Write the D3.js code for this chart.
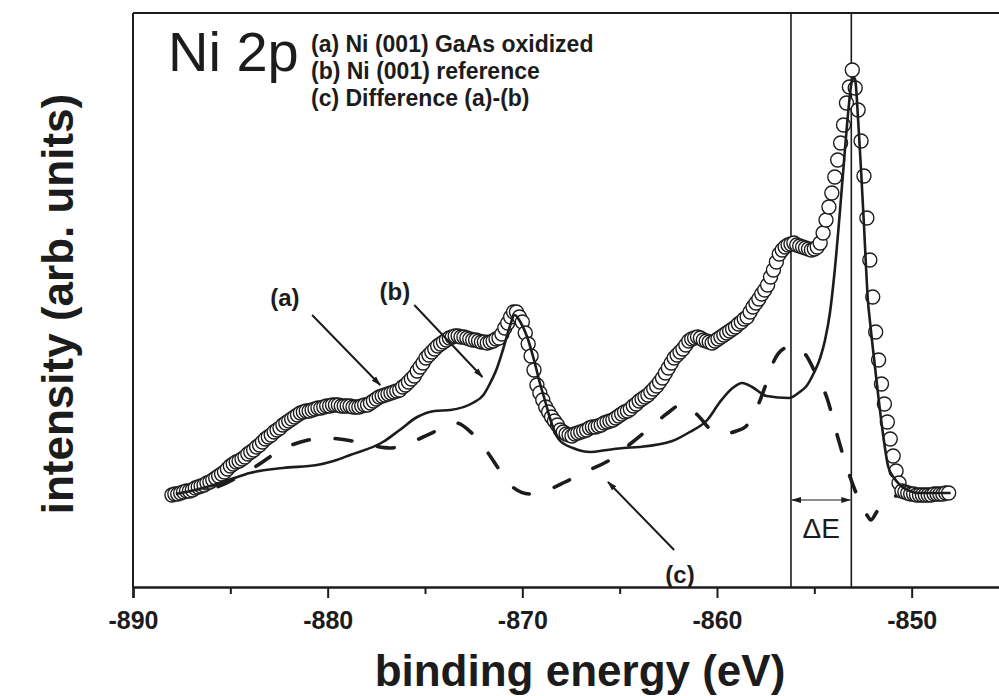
<!DOCTYPE html>
<html>
<head>
<meta charset="utf-8">
<script src="https://cdn.jsdelivr.net/npm/d3@7"></script>
<style>
  html, body { margin: 0; padding: 0; background: #fff; }
  svg { display: block; }
  text { font-family: "Liberation Sans", Arial, Helvetica, sans-serif; fill: #1c1c1c; }
</style>
</head>
<body>
<svg id="chart" width="999" height="696"></svg>
<script>
// Ni 2p core-level spectra: oxidized Ni on GaAs(001), Ni(001) reference and their difference.

// (a) measured on a uniform binding-energy grid starting at -888 eV, 0.15 eV per channel
const energyStart = -888.0;
const energyStep = 0.15;
const intensityOxidized = [
  -2, -1, -1, 0, 1, 2, 2, 3, 5, 6,
  7, 8, 10, 11, 13, 15, 17, 19, 21, 24,
  27, 29, 31, 32, 34, 36, 39, 41, 43, 46,
  48, 51, 54, 56, 58, 61, 63, 65, 68, 70,
  72, 74, 76, 78, 80, 81, 82, 82, 83, 84,
  85, 85, 86, 87, 87, 88, 88, 88, 87, 87,
  87, 87, 86, 86, 86, 87, 88, 88, 90, 92,
  94, 96, 97, 98, 99, 100, 101, 102, 103, 106,
  108, 111, 114, 117, 122, 126, 130, 135, 138, 141,
  144, 147, 149, 151, 153, 155, 156, 157, 157, 156,
  156, 155, 154, 153, 153, 152, 151, 151, 150, 151,
  152, 154, 155, 159, 165, 170, 176, 181, 181, 176,
  171, 160, 149, 137, 123, 108, 100, 93, 86, 81,
  76, 72, 68, 63, 61, 59, 58, 57, 59, 60,
  61, 62, 63, 65, 66, 66, 67, 68, 70, 71,
  72, 73, 75, 77, 79, 81, 82, 84, 87, 89,
  92, 94, 96, 98, 101, 104, 107, 111, 115, 120,
  125, 130, 135, 138, 141, 144, 148, 152, 154, 155,
  156, 155, 153, 152, 151, 150, 152, 154, 156, 158,
  160, 162, 164, 166, 169, 171, 174, 176, 181, 186,
  190, 194, 199, 203, 208, 216, 223, 231, 239, 243,
  246, 248, 249, 250, 248, 247, 246, 245, 244, 243,
  244, 246, 250, 260, 273, 286, 300, 316, 333, 350,
  368, 390, 406, 423, 405, 383, 352, 317, 275, 233,
  196, 161, 133, 109, 89, 71, 54, 37, 22, 10,
  2, 1, 0, -1, -1, -2, -2, -2, -2, -2,
  -2, -1, -1, -1, -1, 0, 0
];

// (b) Ni(001) reference
const referenceEnergy = [
  -887.8, -886.8, -885.7, -884.8, -884.0, -882.3, -880.55, -879.7, -878.85, -877.16,
  -876.3, -875.4, -874.5, -873.7, -872.55, -872.0, -871.65, -871.3, -871.0, -870.65,
  -870.4, -870.1, -869.75, -869.4, -869.1, -868.8, -868.6, -868.1, -867.4, -866.5,
  -865.65, -864.8, -864.0, -862.3, -861.4, -860.5, -859.85, -859.2, -858.7, -858.2,
  -857.45, -856.3, -855.75, -855.4, -855.05, -854.7, -854.45, -854.2, -853.95, -853.7,
  -853.45, -853.25, -853.1, -853.0, -852.9, -852.75, -852.6, -852.45, -852.35, -852.25,
  -852.15, -852.0, -851.75, -851.5, -851.2, -850.9, -850.6, -850.2, -849.7, -848.0
];
const referenceIntensity = [
  -1, 3, 9, 15, 20, 25, 28, 32, 38, 51,
  63, 76, 82, 83, 90, 98, 110, 125, 143, 166,
  178, 171, 156, 133, 110, 90, 76, 53, 45, 41,
  43, 45, 46, 52, 61, 73, 91, 105, 110, 106,
  97, 95, 101, 107, 119, 135, 153, 180, 223, 278,
  338, 383, 409, 416, 413, 373, 323, 268, 228, 193,
  173, 146, 103, 63, 26, 15, 8, 3, 0, 0
];

// (c) difference (a)-(b)
const differenceEnergy = [
  -887.8, -887.0, -885.7, -884.0, -882.1, -881.0, -880.3, -879.4, -878.5, -877.6,
  -876.8, -875.9, -875.1, -874.2, -873.4, -872.6, -871.8, -871.1, -870.5, -869.6,
  -868.7, -867.8, -866.9, -865.35, -864.4, -863.45, -862.6, -861.75, -861.0, -860.3,
  -859.7, -859.0, -858.55, -858.0, -857.5, -857.1, -856.5, -856.0, -855.4, -854.9,
  -854.35, -853.8, -853.2, -852.7, -852.3, -852.1, -851.8, -851.4, -850.8, -850.0,
  -848.0
];
const differenceIntensity = [
  -1, 1, 6, 23, 46, 53, 55, 54, 51, 47,
  45, 49, 56, 64, 70, 60, 41, 21, 6, -1,
  3, 11, 20, 35, 50, 65, 79, 89, 78, 63,
  59, 62, 66, 83, 108, 131, 145, 147, 137, 118,
  95, 56, 18, -7, -22, -27, -19, -7, -3, -2,
  -1
];

const xMajorTicks = [-890, -880, -870, -860, -850];
const xMinorTicks = [-885, -875, -865, -855, -845];
const shiftMarkers = [-856.2, -853.1];   // energies of the two vertical guide lines
const deltaLabel = "\u0394E";
const legendLines = [
  "(a) Ni (001) GaAs oxidized",
  "(b) Ni (001) reference",
  "(c) Difference (a)-(b)"
];
const panelTitle = "Ni 2p";
const xTitle = "binding energy (eV)";
const yTitle = "intensity (arb. units)";

// Annotation callouts, expressed in data units
const callouts = [
  { text: "(a)", labelE: -882.2, labelI: 187, fromE: -880.8, fromI: 178, toE: -877.3, toI: 108 },
  { text: "(b)", labelE: -876.55, labelI: 193, fromE: -875.55, fromI: 188, toE: -872.05, toI: 116 },
  { text: "(c)", labelE: -861.9, labelI: -90, fromE: -862.2, fromI: -57, toE: -865.6, toI: 11 }
];

const plot = { left: 133, right: 1009, top: 13, bottom: 587 };

const x = d3.scaleLinear().domain([-890, -845]).range([plot.left, plot.right]);
const y = d3.scaleLinear().domain([-94, 480]).range([plot.bottom, plot.top]);

const svg = d3.select("#chart");
const ink = "#1c1c1c";

const defs = svg.append("defs");
defs.append("marker")
  .attr("id", "head")
  .attr("viewBox", "0 0 10 8")
  .attr("refX", 9).attr("refY", 4)
  .attr("markerWidth", 10).attr("markerHeight", 8)
  .attr("markerUnits", "userSpaceOnUse")
  .attr("orient", "auto-start-reverse")
  .append("path")
  .attr("d", "M0,1 L10,4 L0,7 Z")
  .attr("fill", ink);

// Frame
const frame = svg.append("g").attr("stroke", ink).attr("fill", "none");
frame.append("line").attr("x1", plot.left).attr("x2", plot.right)
  .attr("y1", plot.top).attr("y2", plot.top).attr("stroke-width", 2);
frame.append("line").attr("x1", plot.left).attr("x2", plot.left)
  .attr("y1", plot.top).attr("y2", plot.bottom).attr("stroke-width", 2);
frame.append("line").attr("x1", plot.right).attr("x2", plot.right)
  .attr("y1", plot.top).attr("y2", plot.bottom).attr("stroke-width", 2);

// Bottom axis with major and minor ticks
const axisMajor = d3.axisBottom(x)
  .tickValues(xMajorTicks)
  .tickSize(11)
  .tickPadding(13)
  .tickFormat(d => String(d));
const gx = svg.append("g").attr("transform", `translate(0,${plot.bottom})`).call(axisMajor);
gx.select(".domain").attr("stroke", ink).attr("stroke-width", 2.5);
gx.selectAll(".tick line").attr("stroke", ink).attr("stroke-width", 2);
gx.selectAll(".tick text")
  .attr("fill", ink)
  .style("font-family", "'Liberation Sans', Arial, sans-serif")
  .style("font-weight", "bold")
  .style("font-size", "25px");

const axisMinor = d3.axisBottom(x).tickValues(xMinorTicks).tickSize(7).tickFormat("");
const gxm = svg.append("g").attr("transform", `translate(0,${plot.bottom})`).call(axisMinor);
gxm.select(".domain").remove();
gxm.selectAll(".tick line").attr("stroke", ink).attr("stroke-width", 2);

// Vertical guide lines marking the two peak positions
svg.append("g").selectAll("line").data(shiftMarkers).join("line")
  .attr("x1", d => x(d)).attr("x2", d => x(d))
  .attr("y1", plot.top).attr("y2", plot.bottom)
  .attr("stroke", ink).attr("stroke-width", 1.6);

// Energy separation arrow and label
svg.append("line")
  .attr("x1", x(shiftMarkers[0]) + 1).attr("x2", x(shiftMarkers[1]) - 1)
  .attr("y1", y(-7)).attr("y2", y(-7))
  .attr("stroke", ink).attr("stroke-width", 1.2)
  .attr("marker-start", "url(#head)").attr("marker-end", "url(#head)");
svg.append("text")
  .attr("x", x((shiftMarkers[0] + shiftMarkers[1]) / 2))
  .attr("y", y(-45))
  .attr("text-anchor", "middle")
  .style("font-size", "28px")
  .text(deltaLabel);

// (c) difference curve, dashed
const diffLine = d3.line()
  .x((d, i) => x(differenceEnergy[i]))
  .y(d => y(d))
  .curve(d3.curveMonotoneX);
svg.append("path")
  .datum(differenceIntensity)
  .attr("d", diffLine)
  .attr("fill", "none")
  .attr("stroke", ink)
  .attr("stroke-width", 3.6)
  .attr("stroke-linecap", "round")
  .attr("stroke-dasharray", "17,26");

// (a) oxidized sample, open circles
const energyOf = i => energyStart + i * energyStep;
svg.append("g").selectAll("circle").data(intensityOxidized).join("circle")
  .attr("cx", (d, i) => x(energyOf(i)))
  .attr("cy", d => y(d))
  .attr("r", 7)
  .attr("fill", "#fff")
  .attr("stroke", ink)
  .attr("stroke-width", 1.4);

// (b) reference, solid line
const refLine = d3.line()
  .x((d, i) => x(referenceEnergy[i]))
  .y(d => y(d))
  .curve(d3.curveMonotoneX);
svg.append("path")
  .datum(referenceIntensity)
  .attr("d", refLine)
  .attr("fill", "none")
  .attr("stroke", ink)
  .attr("stroke-width", 2.6)
  .attr("stroke-linejoin", "round");

// Callout labels and arrows
const co = svg.append("g");
co.selectAll("line").data(callouts).join("line")
  .attr("x1", d => x(d.fromE)).attr("y1", d => y(d.fromI))
  .attr("x2", d => x(d.toE)).attr("y2", d => y(d.toI))
  .attr("stroke", ink).attr("stroke-width", 2)
  .attr("marker-end", "url(#head)");
co.selectAll("text").data(callouts).join("text")
  .attr("x", d => x(d.labelE)).attr("y", d => y(d.labelI))
  .attr("text-anchor", "middle")
  .style("font-weight", "bold")
  .style("font-size", "24px")
  .text(d => d.text);

// Panel title and legend text
svg.append("text")
  .attr("x", 168).attr("y", 71)
  .style("font-size", "56px")
  .text(panelTitle);
svg.append("g").selectAll("text").data(legendLines).join("text")
  .attr("x", 311)
  .attr("y", (d, i) => 52 + i * 27)
  .style("font-weight", "bold")
  .style("font-size", "23px")
  .text(d => d);

// Axis titles
svg.append("text")
  .attr("x", 580).attr("y", 686)
  .attr("text-anchor", "middle")
  .style("font-weight", "bold")
  .style("font-size", "44px")
  .text(xTitle);
svg.append("text")
  .attr("transform", "translate(73,304) rotate(-90)")
  .attr("text-anchor", "middle")
  .style("font-weight", "bold")
  .style("font-size", "44px")
  .text(yTitle);
</script>
</body>
</html>
